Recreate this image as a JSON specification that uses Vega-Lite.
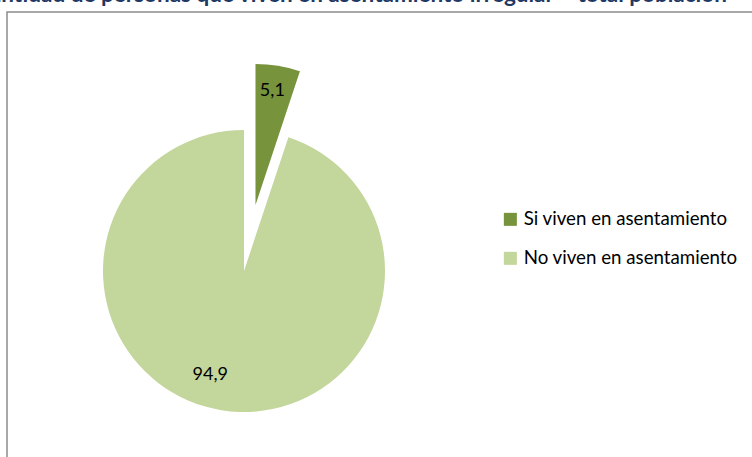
{
  "$schema": "https://vega.github.io/schema/vega-lite/v6.json",
  "autosize": {"type": "none"},
  "width": 760,
  "height": 460,
  "padding": {"left": 7, "top": 12, "right": 0, "bottom": 0},
  "background": "white",
  "view": {"stroke": "#8c8c8c", "strokeWidth": 1.5, "fill": "white"},
  "config": {
    "font": "Lato"
  },
  "title": {
    "text": "Cantidad de personas que viven en asentamiento irregular – total población",
    "anchor": "start",
    "frame": "group",
    "dx": -32,
    "dy": 12,
    "offset": 0,
    "baseline": "alphabetic",
    "font": "Lato",
    "fontSize": 22.5,
    "fontWeight": "bold",
    "color": "#1f3864"
  },
  "data": {
    "values": [
      {"grupo": "Si viven en asentamiento", "valor": 5.1, "etiqueta": "5,1", "orden": 1, "pos": 2.55},
      {"grupo": "No viven en asentamiento", "valor": 94.9, "etiqueta": "94,9", "orden": 2, "pos": 55.0}
    ]
  },
  "encoding": {
    "theta": {"field": "valor", "type": "quantitative", "stack": true},
    "order": {"field": "orden", "type": "quantitative"}
  },
  "layer": [
    {
      "mark": {"type": "arc", "x": 237, "y": 259, "outerRadius": 141},
      "encoding": {
        "color": {
          "field": "grupo",
          "type": "nominal",
          "scale": {"domain": ["Si viven en asentamiento", "No viven en asentamiento"], "range": ["#77933c", "#c3d69b"]},
          "legend": {
            "title": null,
            "orient": "none",
            "legendX": 494,
            "legendY": 198,
            "symbolType": "square",
            "symbolSize": 169,
            "symbolStrokeWidth": 0,
            "labelFontSize": 18.7,
            "labelFont": "Lato",
            "labelColor": "#000000",
            "labelLimit": 400,
            "rowPadding": 19,
            "labelOffset": 4
          }
        },
        "opacity": {"condition": {"test": "datum.orden === 2", "value": 1}, "value": 0}
      }
    },
    {
      "mark": {"type": "arc", "x": 248.5, "y": 193, "outerRadius": 141},
      "encoding": {
        "color": {"field": "grupo", "type": "nominal"},
        "opacity": {"condition": {"test": "datum.orden === 1", "value": 1}, "value": 0}
      }
    },
    {
      "transform": [{"filter": "datum.orden === 1"}],
      "mark": {"type": "text", "x": 247, "y": 193, "radius": 115, "fontSize": 18, "font": "Lato", "color": "#000000"},
      "encoding": {
        "theta": {"field": "pos", "type": "quantitative", "scale": {"domain": [0, 100]}, "stack": null},
        "text": {"field": "etiqueta"}
      }
    },
    {
      "transform": [{"filter": "datum.orden === 2"}],
      "mark": {"type": "text", "x": 237, "y": 259, "radius": 109, "fontSize": 18, "font": "Lato", "color": "#000000"},
      "encoding": {
        "theta": {"field": "pos", "type": "quantitative", "scale": {"domain": [0, 100]}, "stack": null},
        "text": {"field": "etiqueta"}
      }
    }
  ]
}
